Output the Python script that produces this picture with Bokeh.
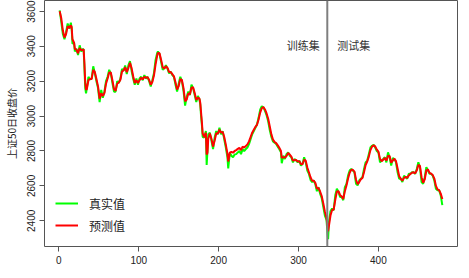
from bokeh.plotting import figure
from bokeh.models import ColumnDataSource, Span, Label, FixedTicker, Range1d, Legend, LegendItem
from bokeh.embed import file_html
from bokeh.resources import INLINE

# ---- data ----
days = [1, 3, 5, 7, 9, 11, 13, 15, 16, 17, 19, 20, 22, 24, 26, 28, 30, 31, 32, 33, 34, 35, 37, 39, 41, 43, 45, 47, 49, 51,
        53, 55, 57, 59, 61, 63, 65, 67, 69, 71, 73, 75, 77, 79, 81, 83, 85, 87, 89, 91, 93, 95, 97, 99, 101, 103, 105, 107, 109, 111,
        113, 115, 117, 119, 121, 123, 124, 126, 128, 130, 132, 134, 136, 138, 140, 142, 144, 146, 148, 150, 152, 154, 156, 158, 160, 162, 164, 166, 168, 170,
        172, 174, 176, 177, 178, 179, 180, 182, 184, 185, 186, 187, 189, 191, 193, 195, 197, 199, 201, 203, 205, 207, 209, 211, 212, 214, 216, 218, 220, 222,
        224, 226, 228, 230, 232, 234, 236, 238, 240, 242, 244, 246, 248, 250, 252, 254, 256, 258, 260, 262, 264, 266, 268, 270, 272, 274, 276, 278, 279, 281,
        283, 285, 287, 289, 291, 293, 295, 297, 299, 301, 303, 305, 307, 309, 311, 313, 315, 317, 319, 321, 323, 325, 327, 329, 331, 333, 335, 336, 337, 338,
        340, 342, 344, 346, 348, 350, 352, 354, 356, 358, 360, 362, 364, 366, 368, 370, 372, 374, 376, 378, 380, 382, 384, 386, 388, 390, 392, 394, 396, 398,
        400, 402, 404, 406, 408, 410, 412, 414, 416, 418, 420, 422, 424, 426, 428, 430, 432, 434, 436, 438, 440, 442, 444, 446, 448, 450, 452, 454, 456, 458,
        460, 462, 464, 466, 468, 470, 472, 474, 476, 478, 480]

actual = [3605, 3540, 3470, 3440, 3480, 3530, 3500, 3535, 3500, 3415, 3420, 3370, 3385, 3350, 3405, 3370, 3385, 3380, 3275, 3160, 3130, 3160, 3225, 3210, 3215, 3285, 3245, 3200, 3160, 3080,
          3150, 3105, 3140, 3200, 3225, 3265, 3245, 3190, 3140, 3140, 3200, 3190, 3215, 3270, 3260, 3290, 3240, 3290, 3315, 3260, 3215, 3180, 3215, 3180, 3215, 3225, 3205, 3235, 3215, 3225,
          3200, 3170, 3205, 3245, 3320, 3360, 3370, 3355, 3310, 3265, 3275, 3292, 3270, 3245, 3255, 3235, 3225, 3180, 3140, 3185, 3225, 3200, 3145, 3060, 3110, 3140, 3120, 3180, 3160, 3120,
          3080, 3115, 3095, 3066, 3000, 2950, 2880, 2877, 2914, 2720, 2800, 2896, 2905, 2858, 2811, 2877, 2914, 2896, 2933, 2896, 2914, 2867, 2820, 2764, 2700, 2790, 2773, 2764, 2780, 2782,
          2792, 2800, 2782, 2811, 2800, 2811, 2820, 2839, 2867, 2896, 2914, 2933, 2952, 2990, 3037, 3056, 3050, 3030, 3005, 2970, 2920, 2880, 2855, 2848, 2840, 2825, 2810, 2792, 2730, 2773,
          2754, 2782, 2792, 2773, 2764, 2735, 2754, 2745, 2735, 2745, 2716, 2726, 2764, 2735, 2688, 2669, 2635, 2622, 2631, 2610, 2570, 2593, 2556, 2530, 2480, 2430, 2405, 2345, 2295, 2390,
          2455, 2470, 2461, 2546, 2584, 2565, 2537, 2537, 2518, 2593, 2612, 2659, 2688, 2697, 2688, 2678, 2612, 2603, 2631, 2641, 2650, 2697, 2735, 2745, 2782, 2820, 2830, 2835, 2820, 2800,
          2792, 2735, 2745, 2754, 2764, 2735, 2792, 2764, 2716, 2760, 2754, 2735, 2678, 2641, 2641, 2622, 2659, 2650, 2641, 2669, 2669, 2678, 2678, 2669, 2697, 2735, 2707, 2622, 2612, 2650,
          2707, 2688, 2669, 2669, 2659, 2631, 2584, 2575, 2575, 2546, 2490]

predicted = [3600, 3560, 3490, 3450, 3470, 3515, 3505, 3520, 3510, 3440, 3420, 3385, 3380, 3360, 3390, 3378, 3380, 3382, 3300, 3190, 3150, 3155, 3205, 3212, 3212, 3265, 3252, 3212, 3170, 3100,
             3130, 3115, 3132, 3185, 3215, 3250, 3250, 3205, 3155, 3145, 3185, 3192, 3208, 3255, 3262, 3280, 3252, 3275, 3305, 3275, 3228, 3190, 3205, 3190, 3205, 3220, 3210, 3225, 3220, 3222,
             3207, 3180, 3195, 3232, 3295, 3345, 3362, 3360, 3322, 3280, 3272, 3285, 3276, 3252, 3252, 3240, 3228, 3192, 3152, 3172, 3212, 3207, 3160, 3085, 3095, 3130, 3125, 3162, 3165, 3132,
             3092, 3105, 3100, 3075, 3020, 2965, 2900, 2880, 2905, 2780, 2790, 2870, 2900, 2870, 2825, 2860, 2902, 2900, 2922, 2905, 2910, 2880, 2835, 2785, 2740, 2790, 2795, 2790, 2800, 2805,
             2812, 2818, 2805, 2825, 2820, 2828, 2838, 2855, 2880, 2905, 2922, 2938, 2950, 2980, 3020, 3045, 3052, 3038, 3015, 2985, 2940, 2895, 2865, 2852, 2845, 2832, 2818, 2800, 2760, 2765,
             2762, 2772, 2788, 2780, 2768, 2745, 2748, 2748, 2740, 2742, 2725, 2724, 2750, 2745, 2705, 2678, 2650, 2630, 2630, 2618, 2585, 2588, 2568, 2542, 2500, 2452, 2418, 2380, 2340, 2370,
             2430, 2462, 2465, 2520, 2568, 2570, 2548, 2540, 2525, 2570, 2602, 2642, 2675, 2692, 2692, 2682, 2635, 2610, 2622, 2638, 2646, 2680, 2720, 2740, 2768, 2805, 2825, 2832, 2826, 2808,
             2796, 2755, 2742, 2750, 2760, 2745, 2772, 2772, 2733, 2745, 2756, 2742, 2700, 2655, 2642, 2630, 2645, 2653, 2645, 2660, 2668, 2675, 2678, 2672, 2688, 2720, 2715, 2650, 2618, 2638,
             2688, 2695, 2675, 2670, 2662, 2642, 2600, 2580, 2576, 2556, 2525]

split_day = 336
x_ticks = [0, 100, 200, 300, 400]
y_ticks = [2400, 2600, 2800, 3000, 3200, 3400, 3600]
series_names = ["真实值", "预测值"]
region_names = ["训练集", "测试集"]

src = ColumnDataSource(dict(day=days, actual=actual, predicted=predicted))

p = figure(width=458, height=266, output_backend="svg", toolbar_location=None,
           x_range=Range1d(-18, 499), y_range=Range1d(2253, 3662),
           min_border_left=37, min_border_right=1, min_border_top=0, min_border_bottom=20)

p.background_fill_color = "white"
p.border_fill_color = "white"
p.outline_line_color = "#555555"
p.outline_line_width = 1
p.xgrid.visible = False
p.ygrid.visible = False

for ax in (p.xaxis[0], p.yaxis[0]):
    ax.axis_line_color = None
    ax.major_tick_line_color = "#555555"
    ax.major_tick_out = 5
    ax.major_tick_in = 0
    ax.minor_tick_line_color = None
    ax.major_label_text_font = "Liberation Sans"
    ax.major_label_text_font_size = "10px"
    ax.major_label_text_color = "#222222"
    ax.major_label_standoff = 4

p.xaxis[0].ticker = FixedTicker(ticks=x_ticks)
p.yaxis[0].ticker = FixedTicker(ticks=y_ticks)
p.yaxis[0].major_label_orientation = "vertical"
p.yaxis[0].axis_label = "上证50日收盘价"
p.yaxis[0].axis_label_text_font = "Noto Sans CJK SC"
p.yaxis[0].axis_label_text_font_size = "10px"
p.yaxis[0].axis_label_text_font_style = "normal"
p.yaxis[0].axis_label_text_color = "#222222"
p.yaxis[0].axis_label_standoff = 6

g = p.line("day", "actual", source=src, line_color="#00FF00", line_width=2)
r = p.line("day", "predicted", source=src, line_color="#FF0000", line_width=2)

p.add_layout(Span(location=split_day, dimension="height", line_color="#7f7f7f", line_width=2))

label_y = 3405
p.add_layout(Label(x=split_day - 30, y=label_y, text=region_names[0], text_align="center", text_baseline="middle",
                   text_font="Noto Sans CJK SC", text_font_size="11px", text_color="#333333"))
p.add_layout(Label(x=split_day + 33, y=label_y, text=region_names[1], text_align="center", text_baseline="middle",
                   text_font="Noto Sans CJK SC", text_font_size="11px", text_color="#333333"))

legend = Legend(items=[LegendItem(label=series_names[0], renderers=[g]),
                       LegendItem(label=series_names[1], renderers=[r])],
                location=(11, 10), orientation="vertical")
legend.border_line_color = None
legend.background_fill_alpha = 0
legend.padding = 0
legend.margin = 0
legend.spacing = 0
legend.glyph_width = 23
legend.glyph_height = 22
legend.label_height = 22
legend.label_standoff = 11
legend.label_text_font = "Noto Sans CJK SC"
legend.label_text_font_size = "12px"
legend.label_text_color = "#222222"
p.add_layout(legend, "center")

with open("out.html", "w") as f:
    f.write(file_html(p, INLINE))
